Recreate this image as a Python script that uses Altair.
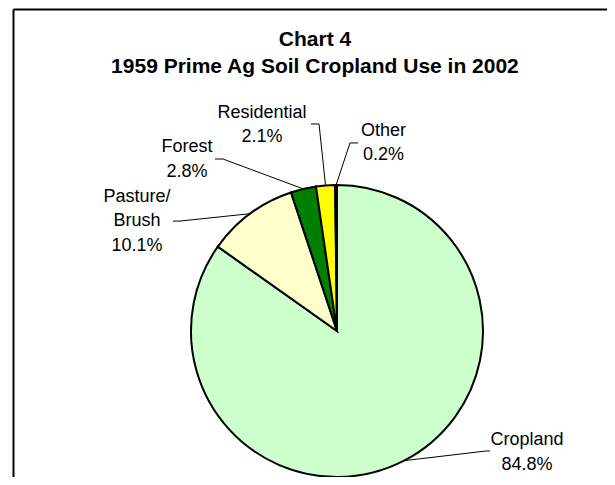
import altair as alt
import numpy as np
import pandas as pd

# ---- data ----
categories = ["Cropland", "Pasture/Brush", "Forest", "Residential", "Other"]
shares = [84.8, 10.1, 2.8, 2.1, 0.2]
label_lines = [["Cropland", "84.8%"], ["Pasture/", "Brush", "10.1%"],
               ["Forest", "2.8%"], ["Residential", "2.1%"], ["Other", "0.2%"]]
colors = ["#CCFFCC", "#FFFFCC", "#008000", "#FFFF00", "#000000"]
title_lines = ["Chart 4", "1959 Prime Ag Soil Cropland Use in 2002"]

# ---- layout (units of pie radius, relative to pie centre) ----
label_pos = [(1.301, -0.781), (-1.370, 0.884), (-1.027, 1.226), (-0.514, 1.459), (0.318, 1.336)]
elbow_pos = [(1.021, -0.822), (-1.075, 0.753), (-0.781, 1.178), (-0.123, 1.418), (0.089, 1.288)]
end_pos = [(1.048, -0.822), (-1.123, 0.753), (-0.836, 1.178), (-0.178, 1.418), (0.144, 1.288)]
title_pos = (-0.151, 1.952)
R = 146

pie_df = pd.DataFrame({"category": categories, "share": shares, "idx": range(len(categories))})

# leader lines: start at the middle of each slice on the rim
total = sum(shares)
cum = np.cumsum([0] + shares[:-1])
rows = []
for i, c in enumerate(categories):
    a = 2 * np.pi * (cum[i] + shares[i] / 2) / total
    pts = [(np.sin(a), np.cos(a)), elbow_pos[i], end_pos[i]]
    for k, (u, v) in enumerate(pts):
        rows.append({"category": c, "pt": k, "u": u, "v": v})
lines_df = pd.DataFrame(rows)

lab_df = pd.DataFrame({"category": categories, "lines": label_lines,
                       "u": [p[0] for p in label_pos], "v": [p[1] for p in label_pos]})
title_df = pd.DataFrame({"lines": [title_lines], "u": [title_pos[0]], "v": [title_pos[1]]})

xs = alt.Scale(domain=[-2.2534, 1.8493], nice=False, zero=False)
ys = alt.Scale(domain=[-1.0, 2.2123], nice=False, zero=False)
FONT = "Liberation Sans"

pie = alt.Chart(pie_df).mark_arc(outerRadius=R, stroke="black", strokeWidth=2).encode(
    theta=alt.Theta("share:Q", stack=True),
    order=alt.Order("idx:Q", sort="ascending"),
    color=alt.Color("category:N", scale=alt.Scale(domain=categories, range=colors), legend=None),
    x=alt.XDatum(0, type="quantitative", scale=xs, axis=None),
    y=alt.YDatum(0, type="quantitative", scale=ys, axis=None),
)

leaders = alt.Chart(lines_df).mark_line(color="black", strokeWidth=1).encode(
    x=alt.X("u:Q", scale=xs, axis=None),
    y=alt.Y("v:Q", scale=ys, axis=None),
    detail="category:N",
    order="pt:Q",
)

labels = alt.Chart(lab_df).mark_text(font=FONT, fontSize=18, lineHeight=24.5,
                                     align="center", baseline="alphabetic", color="black").encode(
    x=alt.X("u:Q", scale=xs, axis=None),
    y=alt.Y("v:Q", scale=ys, axis=None),
    text="lines",
)

title = alt.Chart(title_df).mark_text(font=FONT, fontSize=21, fontWeight="bold", lineHeight=27,
                                      align="center", baseline="alphabetic", color="black").encode(
    x=alt.X("u:Q", scale=xs, axis=None),
    y=alt.Y("v:Q", scale=ys, axis=None),
    text="lines",
)

frame_df = pd.DataFrame({"k": [0]})
frame_left = alt.Chart(frame_df).mark_rule(color="black", strokeWidth=2).encode(
    x=alt.value(5.5), y=alt.value(1.5), y2=alt.value(600))
frame_top = alt.Chart(frame_df).mark_rule(color="black", strokeWidth=2).encode(
    y=alt.value(1.5), x=alt.value(5.5), x2=alt.value(700))

chart = alt.layer(frame_left, frame_top, pie, leaders, labels, title).properties(
    width=599, height=469, autosize=alt.AutoSizeParams(type="none"), padding=0,
    background="white",
).configure_view(stroke=None)

chart.save("out.html", embed_options={"renderer": "svg", "actions": False})
